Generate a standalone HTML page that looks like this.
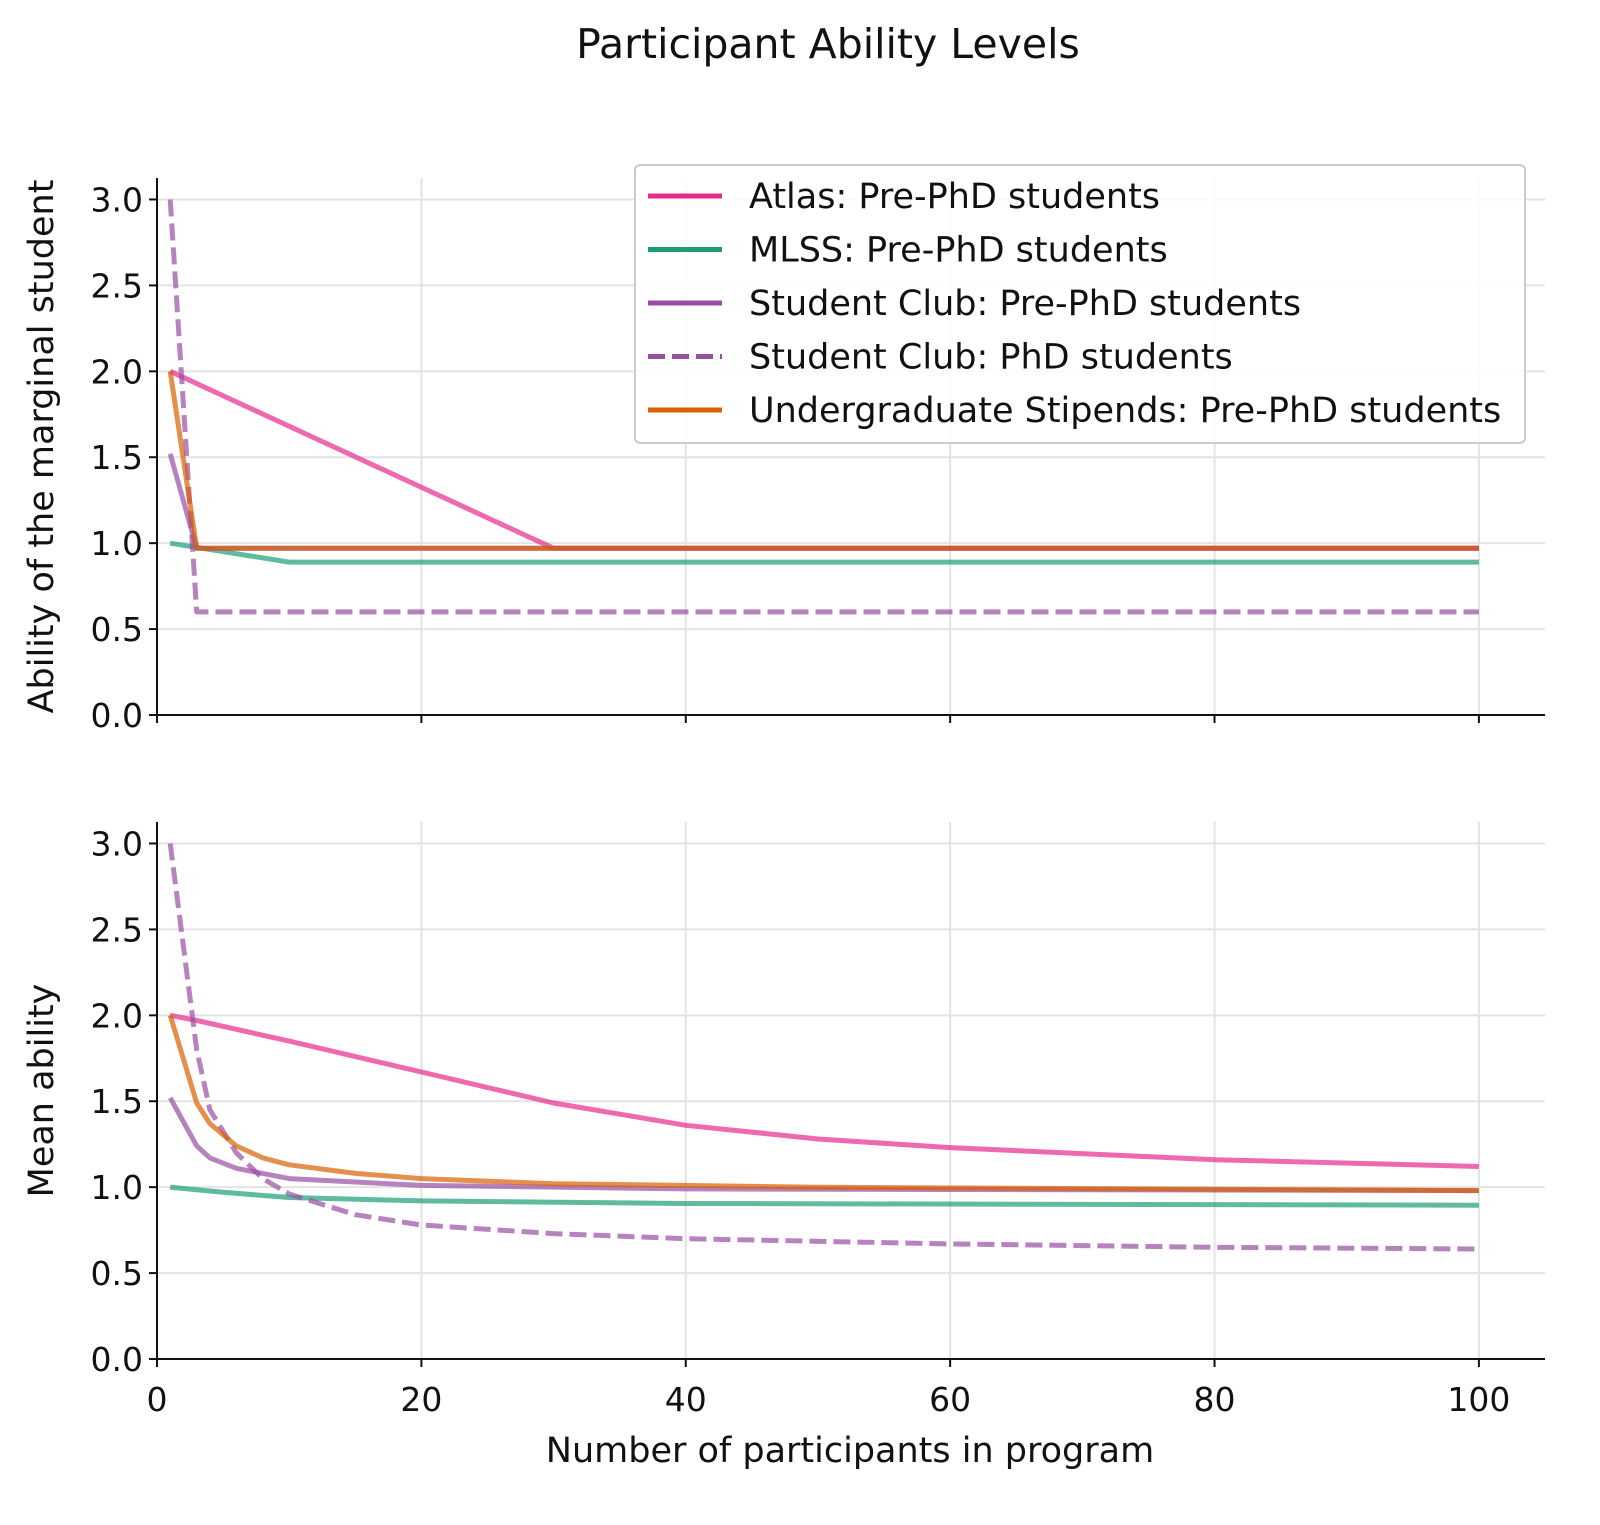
<!DOCTYPE html>
<html><head><meta charset="utf-8"><style>
body{margin:0;background:#fff}
svg{display:block;font-family:"DejaVu Sans","Liberation Sans",sans-serif}
</style></head><body>
<svg id="chart" width="1600" height="1525" viewBox="0 0 1600 1525" xmlns="http://www.w3.org/2000/svg">
<rect width="1600" height="1525" fill="#fff"/>
<text x="828" y="58" text-anchor="middle" font-size="41" fill="#111">Participant Ability Levels</text>
<g id="plots"></g>
</svg>
<script>
const xTicks=[0,20,40,60,80,100];
const yTicks=[0,0.5,1,1.5,2,2.5,3];
const seriesNames=["Atlas: Pre-PhD students","MLSS: Pre-PhD students","Student Club: Pre-PhD students","Student Club: PhD students","Undergraduate Stipends: Pre-PhD students"];
const seriesColors=["#e7298a","#1b9e77","#984ea3","#984ea3","#d95f02"];
const seriesDash=[false,false,false,true,false];
// top panel: marginal ability
const atlasMargX=[1,30,100], atlasMargY=[2.0,0.97,0.97];
const mlssMargX=[1,10,100], mlssMargY=[1.0,0.89,0.89];
const clubMargX=[1,3,100], clubMargY=[1.52,0.97,0.97];
const phdMargX=[1,3,100], phdMargY=[3.0,0.6,0.6];
const ugMargX=[1,3,100], ugMargY=[2.0,0.97,0.97];
// bottom panel: mean ability
const atlasMeanX=[1,3,10,20,30,40,50,60,80,100], atlasMeanY=[2.0,1.97,1.85,1.67,1.49,1.36,1.28,1.23,1.16,1.12];
const mlssMeanX=[1,5,10,20,40,100], mlssMeanY=[1.0,0.97,0.94,0.92,0.905,0.895];
const clubMeanX=[1,3,4,6,10,20,40,100], clubMeanY=[1.52,1.24,1.17,1.11,1.05,1.01,0.99,0.98];
const phdMeanX=[1,3,4,6,8,10,15,20,30,40,60,80,100], phdMeanY=[3.0,1.8,1.45,1.2,1.05,0.96,0.84,0.78,0.73,0.70,0.67,0.65,0.64];
const ugMeanX=[1,3,4,6,8,10,15,20,30,50,100], ugMeanY=[2.0,1.49,1.37,1.24,1.17,1.13,1.08,1.05,1.02,1.0,0.98];

const NS="http://www.w3.org/2000/svg";
const root=document.getElementById('plots');
function mk(tag,attrs,parent){const e=document.createElementNS(NS,tag);for(const k in attrs)e.setAttribute(k,attrs[k]);(parent||root).appendChild(e);return e;}
const X0=157,X1=1545,XMAX=105;
const sx=v=>X0+v/XMAX*(X1-X0);

function panel(top,bottom,ylabel,xs,ys,name,showX){
  const g=mk('g',{});
  
  
  const YMAX=3.125;
  const sy=v=>bottom-v/YMAX*(bottom-top);
  xTicks.forEach(t=>{const l=mk('line',{x1:sx(t),x2:sx(t),y1:top,y2:bottom,stroke:'#e3e3e3','stroke-width':2},g);
    });
  yTicks.forEach(t=>{const l=mk('line',{x1:X0,x2:X1,y1:sy(t),y2:sy(t),stroke:'#e3e3e3','stroke-width':2},g);
    });
  xs.forEach((X,i)=>{
    const pts=X.map((x,j)=>sx(x).toFixed(1)+','+sy(ys[i][j]).toFixed(1)).join(' ');
    const p=mk('polyline',{points:pts,fill:'none',stroke:seriesColors[i],'stroke-width':5,'stroke-opacity':0.7,'stroke-linejoin':'round'},g);
    if(seriesDash[i])p.setAttribute('stroke-dasharray','17,7');
    
    
  });
  mk('line',{x1:X0,x2:X0,y1:top,y2:bottom,stroke:'#111','stroke-width':2},g);
  mk('line',{x1:X0,x2:X1,y1:bottom,y2:bottom,stroke:'#111','stroke-width':2},g);
  yTicks.forEach(t=>{mk('line',{x1:X0-8,x2:X0,y1:sy(t),y2:sy(t),stroke:'#111','stroke-width':2},g);
    const tx=mk('text',{x:X0-14,y:sy(t)+12,'text-anchor':'end','font-size':33,fill:'#111'},g);tx.textContent=t.toFixed(1);
    });
  xTicks.forEach(t=>{mk('line',{x1:sx(t),x2:sx(t),y1:bottom,y2:bottom+8,stroke:'#111','stroke-width':2},g);
    if(showX){const tx=mk('text',{x:sx(t),y:bottom+52,'text-anchor':'middle','font-size':33,fill:'#111'},g);tx.textContent=t;
      }});
  const yl=mk('text',{transform:`translate(53,${(top+bottom)/2}) rotate(-90)`,'text-anchor':'middle','font-size':35,fill:'#111'},g);
  yl.textContent=ylabel;
  
  
}
panel(178,715,'Ability of the marginal student',
  [atlasMargX,mlssMargX,clubMargX,phdMargX,ugMargX],[atlasMargY,mlssMargY,clubMargY,phdMargY,ugMargY],'top-panel',false);
panel(822,1359,'Mean ability',
  [atlasMeanX,mlssMeanX,clubMeanX,phdMeanX,ugMeanX],[atlasMeanY,mlssMeanY,clubMeanY,phdMeanY,ugMeanY],'bottom-panel',true);
const xt=mk('text',{x:850,y:1462,'text-anchor':'middle','font-size':35,fill:'#111'});
xt.textContent='Number of participants in program';


// legend
const lg=mk('g',{});


mk('rect',{x:635,y:165,width:890,height:278,rx:5,fill:'#fff','fill-opacity':0.85,stroke:'#ccc','stroke-width':2},lg);
seriesNames.forEach((n,i)=>{
  const y=196+i*53.5;
  const l=mk('line',{x1:648,x2:722,y1:y,y2:y,stroke:seriesColors[i],'stroke-width':5},lg);
  if(seriesDash[i])l.setAttribute('stroke-dasharray','17,7');
  const t=mk('text',{x:749,y:y+12,'font-size':35,fill:'#111'},lg);t.textContent=n;
  
  
});
</script>
</body></html>
